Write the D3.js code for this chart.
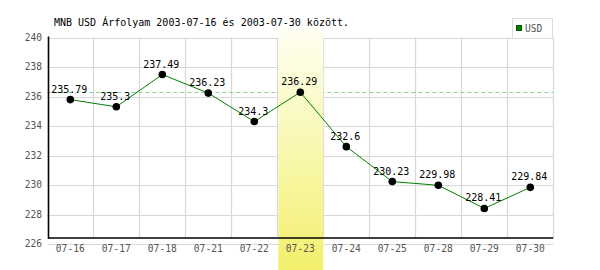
<!DOCTYPE html>
<html>
<head>
<meta charset="utf-8">
<script src="https://cdn.jsdelivr.net/npm/d3@7"></script>
<style>
    body { margin: 0; background: #fff; }
    svg { display: block; }
    .tick-label { font-family: "DejaVu Sans Mono", monospace; font-size: 9.6px; fill: #555; }
    .value-label { font-family: "DejaVu Sans Mono", monospace; font-size: 10px; fill: #000; }
</style>
</head>
<body>
<div id="d3-container">
    <svg width="600" height="270"></svg>
</div>
<script>
    var days = ["07-16", "07-17", "07-18", "07-21", "07-22", "07-23", "07-24", "07-25", "07-28", "07-29", "07-30"];
    var usd = [235.79, 235.3, 237.49, 236.23, 234.3, 236.29, 232.6, 230.23, 229.98, 228.41, 229.84];
    var yTicks = [226, 228, 230, 232, 234, 236, 238, 240];
    var highlightDay = "07-23";
    var title = "MNB USD Árfolyam 2003-07-16 és 2003-07-30 között.";
    var seriesName = "USD";

    var svg = d3.select("svg");

    var x = d3.scaleBand().domain(days).range([47.3, 553.3]).padding(0),
        y = d3.scaleLinear().domain([226, 240]).range([244, 37.5]);

    var left = x.range()[0], right = x.range()[1], axisY = 238;

    var defs = svg.append("defs");
    var grad = defs.append("linearGradient")
        .attr("id", "hl-grad")
        .attr("x1", 0).attr("x2", 0).attr("y1", 0).attr("y2", 1);
    grad.append("stop").attr("offset", "0%").attr("stop-color", "#fffff4");
    grad.append("stop").attr("offset", "100%").attr("stop-color", "#f2f06c");

    // grid
    svg.append("g").selectAll("line")
        .data(yTicks)
        .enter().append("line")
        .attr("x1", left).attr("x2", right)
        .attr("y1", function(d) { return Math.round(y(d)) + 0.5; })
        .attr("y2", function(d) { return Math.round(y(d)) + 0.5; })
        .style("stroke", "#d8d8d8")
        .style("stroke-width", 1.2);

    svg.append("g").selectAll("line")
        .data(days)
        .enter().append("line")
        .attr("x1", function(d) { return Math.round(x(d) + x.bandwidth()) + 0.5; })
        .attr("x2", function(d) { return Math.round(x(d) + x.bandwidth()) + 0.5; })
        .attr("y1", y(240)).attr("y2", axisY)
        .style("stroke", "#d8d8d8")
        .style("stroke-width", 1.2);

    // reference line at highlighted day's value
    var hlValue = usd[days.indexOf(highlightDay)];
    svg.append("line")
        .attr("x1", left).attr("x2", right)
        .attr("y1", Math.round(y(hlValue)) + 0.5)
        .attr("y2", Math.round(y(hlValue)) + 0.5)
        .style("stroke", "#8fd08f")
        .style("stroke-dasharray", "4,3");

    // highlight band
    svg.append("rect")
        .attr("x", x(highlightDay) + 1)
        .attr("y", 28)
        .attr("width", x.bandwidth() - 1)
        .attr("height", 242)
        .style("fill", "url(#hl-grad)");

    // axes
    svg.append("line")
        .attr("x1", 48.5).attr("x2", 48.5)
        .attr("y1", y(240) - 1).attr("y2", axisY + 1)
        .style("stroke", "black")
        .style("stroke-width", 1.6);
    svg.append("line")
        .attr("x1", 48).attr("x2", right)
        .attr("y1", axisY).attr("y2", axisY)
        .style("stroke", "black")
        .style("stroke-width", 1.6);

    svg.append("g").selectAll("text")
        .data(yTicks)
        .enter().append("text")
        .attr("class", "tick-label")
        .attr("x", 42)
        .attr("y", function(d) { return y(d); })
        .attr("dy", "0.35em")
        .attr("text-anchor", "end")
        .text(function(d) { return d; });

    svg.append("g").selectAll("text")
        .data(days)
        .enter().append("text")
        .attr("class", "tick-label")
        .attr("x", function(d) { return x(d) + x.bandwidth() / 2; })
        .attr("y", 251.5)
        .attr("text-anchor", "middle")
        .text(function(d) { return d; });

    // series
    var data = days.map(function(d, i) { return { day: d, value: usd[i] }; });

    svg.append("path")
        .datum(data)
        .attr("d", d3.line()
            .x(function(d) { return x(d.day) + x.bandwidth() / 2; })
            .y(function(d) { return y(d.value); }))
        .style("fill", "none")
        .style("stroke", "#008000")
        .style("stroke-width", 1);

    svg.append("g").selectAll("circle")
        .data(data)
        .enter().append("circle")
        .attr("cx", function(d) { return x(d.day) + x.bandwidth() / 2; })
        .attr("cy", function(d) { return y(d.value); })
        .attr("r", 3.8)
        .style("fill", "black");

    svg.append("g").selectAll("text")
        .data(data)
        .enter().append("text")
        .attr("class", "value-label")
        .attr("x", function(d) { return x(d.day) + x.bandwidth() / 2 - 1; })
        .attr("y", function(d) { return y(d.value) - 7; })
        .attr("text-anchor", "middle")
        .text(function(d) { return d.value; });

    // title
    svg.append("text")
        .attr("class", "value-label")
        .attr("x", 54)
        .attr("y", 26)
        .text(title);

    // legend
    var legend = svg.append("g");
    legend.append("rect")
        .attr("x", 512.5).attr("y", 18.5)
        .attr("width", 40).attr("height", 20)
        .style("fill", "white")
        .style("stroke", "#dcdcdc");
    legend.append("rect")
        .attr("x", 516.5).attr("y", 25.5)
        .attr("width", 5).attr("height", 5)
        .style("fill", "#008000")
        .style("stroke", "#005500");
    legend.append("text")
        .attr("class", "tick-label")
        .attr("x", 525)
        .attr("y", 28.5)
        .attr("dy", "0.35em")
        .text(seriesName);
</script>
</body>
</html>
